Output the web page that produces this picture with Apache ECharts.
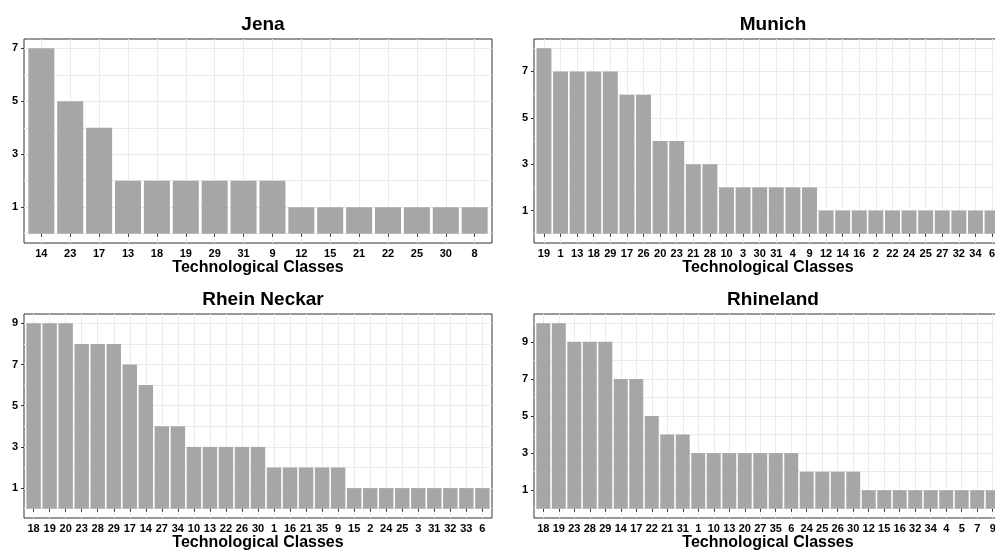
<!DOCTYPE html>
<html>
<head>
<meta charset="utf-8">
<script src="https://cdn.jsdelivr.net/npm/echarts@6/dist/echarts.min.js"></script>
<style>
  html, body { margin: 0; padding: 0; background: #ffffff; }
  #chart { width: 995px; height: 552px; }
</style>
</head>
<body>
<div id="chart"></div>
<script>
// Patent counts per technological class, one panel per region
const regionNames = ['Jena', 'Munich', 'Rhein Neckar', 'Rhineland'];

const jenaClasses = ['14', '23', '17', '13', '18', '19', '29', '31', '9', '12', '15', '21', '22', '25', '30', '8'];
const jenaCounts  = [7, 5, 4, 2, 2, 2, 2, 2, 2, 1, 1, 1, 1, 1, 1, 1];

const munichClasses = ['19', '1', '13', '18', '29', '17', '26', '20', '23', '21', '28', '10', '3', '30', '31', '4', '9',
                       '12', '14', '16', '2', '22', '24', '25', '27', '32', '34', '6'];
const munichCounts  = [8, 7, 7, 7, 7, 6, 6, 4, 4, 3, 3, 2, 2, 2, 2, 2, 2,
                       1, 1, 1, 1, 1, 1, 1, 1, 1, 1, 1];

const rheinNeckarClasses = ['18', '19', '20', '23', '28', '29', '17', '14', '27', '34', '10', '13', '22', '26', '30',
                            '1', '16', '21', '35', '9', '15', '2', '24', '25', '3', '31', '32', '33', '6'];
const rheinNeckarCounts  = [9, 9, 9, 8, 8, 8, 7, 6, 4, 4, 3, 3, 3, 3, 3,
                            2, 2, 2, 2, 2, 1, 1, 1, 1, 1, 1, 1, 1, 1];

const rhinelandClasses = ['18', '19', '23', '28', '29', '14', '17', '22', '21', '31', '1', '10', '13', '20', '27',
                          '35', '6', '24', '25', '26', '30', '12', '15', '16', '32', '34', '4', '5', '7', '9'];
const rhinelandCounts  = [10, 10, 9, 9, 9, 7, 7, 5, 4, 4, 3, 3, 3, 3, 3,
                          3, 3, 2, 2, 2, 2, 1, 1, 1, 1, 1, 1, 1, 1, 1];

const yTicksSmall = [1, 3, 5, 7];
const yTicksLarge = [1, 3, 5, 7, 9];

const panelData = [
  { classes: jenaClasses, counts: jenaCounts, ticks: yTicksSmall },
  { classes: munichClasses, counts: munichCounts, ticks: yTicksSmall },
  { classes: rheinNeckarClasses, counts: rheinNeckarCounts, ticks: yTicksLarge },
  { classes: rhinelandClasses, counts: rhinelandCounts, ticks: yTicksLarge }
];

// Panel frames (left, top, width, height) in px; the right column runs past the page edge
const panelBoxes = [
  [24, 39, 468, 204],
  [534, 39, 468, 204],
  [24, 314, 468, 204],
  [534, 314, 468, 204]
];

const FONT = "'Liberation Sans', Arial, Helvetica, sans-serif";
const BAR_COLOR = '#A6A6A6';
const GRID_COLOR = '#EBEBEB';
const FRAME_COLOR = '#333333';

const option = {
  backgroundColor: '#ffffff',
  animation: false,
  title: [],
  grid: [],
  xAxis: [],
  yAxis: [],
  series: []
};

panelData.forEach((p, i) => {
  const [L, T, W, H] = panelBoxes[i];
  const n = p.classes.length;
  const band = W / (n + 0.2);               // discrete scale with 0.6 padding on each side
  const vmax = Math.max(...p.counts);
  const ymin = -0.05 * vmax, ymax = 1.05 * vmax;

  option.title.push({
    text: regionNames[i],
    left: L + W / 2,
    top: T - 29,
    textAlign: 'center',
    textStyle: { fontFamily: FONT, fontSize: 19, fontWeight: 'bold', color: '#000' }
  });

  // outer grid: frame + y scale; inner grid: category positions + bars
  const outerIdx = option.grid.length;
  option.grid.push({
    left: L, top: T, width: W, height: H,
    outerBoundsMode: 'none', containLabel: false,
    show: true, borderColor: FRAME_COLOR, borderWidth: 1, backgroundColor: 'transparent'
  });
  const innerIdx = option.grid.length;
  option.grid.push({
    left: L + 0.6 * band, top: T, width: W - 1.2 * band, height: H,
    outerBoundsMode: 'none', containLabel: false
  });

  // outer x (placeholder, hidden)
  option.xAxis.push({ gridIndex: outerIdx, type: 'value', min: 0, max: 1, show: false });
  // inner category x axis
  const xInner = option.xAxis.length;
  option.xAxis.push({
    gridIndex: innerIdx,
    type: 'category',
    data: p.classes,
    boundaryGap: false,
    axisLine: { show: false },
    axisTick: { show: true, length: 3, lineStyle: { color: FRAME_COLOR, width: 1 } },
    axisLabel: { interval: 0, margin: 5, fontFamily: FONT, fontSize: 11, fontWeight: 'bold', color: '#000' },
    splitLine: { show: true, lineStyle: { color: GRID_COLOR, width: 1 } },
    name: 'Technological Classes',
    nameLocation: 'middle',
    nameGap: 16,
    nameTextStyle: { fontFamily: FONT, fontSize: 16, fontWeight: 'bold', color: '#000' }
  });

  // outer y: labels + ticks
  option.yAxis.push({
    gridIndex: outerIdx,
    type: 'value',
    min: ymin, max: ymax,
    axisLine: { show: false },
    axisTick: { show: true, length: 3, customValues: p.ticks, lineStyle: { color: FRAME_COLOR, width: 1 } },
    axisLabel: { customValues: p.ticks, margin: 6, fontFamily: FONT, fontSize: 11, fontWeight: 'bold', color: '#000' },
    splitLine: { show: false }
  });
  // outer y: horizontal grid lines at every integer
  option.yAxis.push({
    gridIndex: outerIdx,
    type: 'value',
    position: 'left',
    min: ymin, max: ymax,
    minInterval: 1, maxInterval: 1,
    axisLine: { show: false },
    axisTick: { show: false },
    axisLabel: { show: false },
    splitLine: { show: true, showMinLine: false, showMaxLine: false, lineStyle: { color: GRID_COLOR, width: 1 } }
  });
  // inner y: same scale, hidden
  const yInner = option.yAxis.length;
  option.yAxis.push({ gridIndex: innerIdx, type: 'value', min: ymin, max: ymax, show: false });

  option.series.push({
    type: 'bar',
    xAxisIndex: xInner,
    yAxisIndex: yInner,
    data: p.counts,
    barWidth: '90%',
    clip: false,
    silent: true,
    itemStyle: { color: BAR_COLOR }
  });
});

const chart = echarts.init(document.getElementById('chart'), null, { renderer: 'canvas' });
chart.setOption(option);
</script>
</body>
</html>
